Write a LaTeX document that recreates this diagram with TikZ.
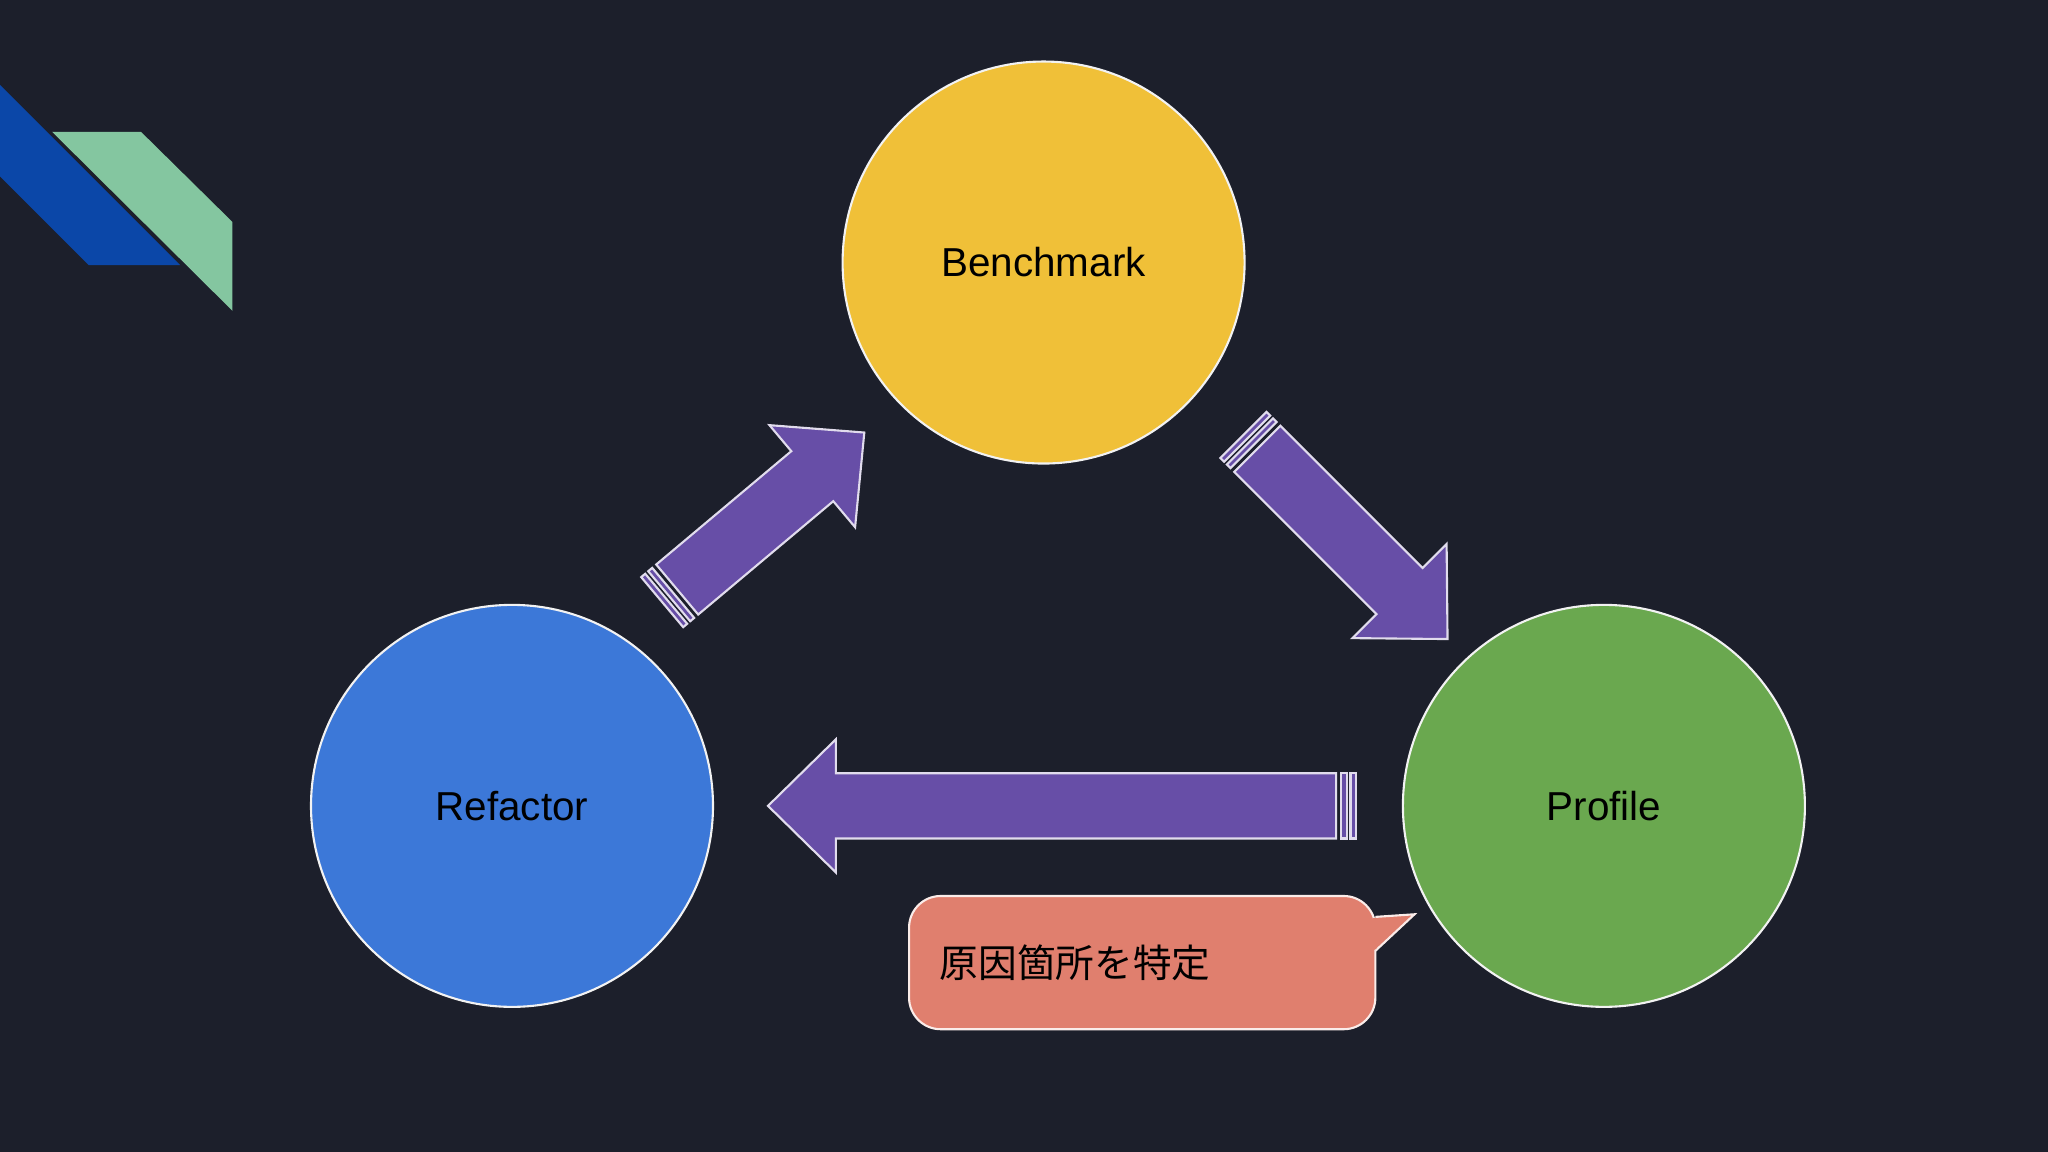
\documentclass[tikz,border=0pt]{standalone}
\usepackage{fontspec}
\setmainfont{Liberation Sans}
\newfontfamily\cjk{Noto Sans CJK JP}
\usetikzlibrary{positioning}
\definecolor{bgdark}{HTML}{1C1F2B}
\definecolor{benchyellow}{HTML}{F0C038}
\definecolor{refblue}{HTML}{3C78D8}
\definecolor{profgreen}{HTML}{6AA84F}
\definecolor{arrowpurple}{HTML}{674EA7}
\definecolor{notesalmon}{HTML}{E07F6E}
\definecolor{decoblue}{HTML}{0B47A8}
\definecolor{decogreen}{HTML}{84C6A0}
\tikzset{
  stage/.style={circle, draw=white!90!gray, line width=0.6pt, minimum size=4.02cm, inner sep=0pt, font=\fontsize{11.5}{14}\selectfont, text=black},
  fat/.style={fill=arrowpurple, draw=white!80!arrowpurple, line width=0.6pt},
}
\newcommand{\fatarrow}[4]{%
  \begin{scope}[shift={(#1,#2)}, rotate=#3]
    \draw[fat] (0,-25) rectangle (4,25);
    \draw[fat] (7,-25) rectangle (11,25);
    \draw[fat] (15,-25) -- (#4-52,-25) -- (#4-52,-51) -- (#4,0) -- (#4-52,51) -- (#4-52,25) -- (15,25) -- cycle;
  \end{scope}}
\begin{document}
\begin{tikzpicture}[x=0.01306cm, y=-0.01306cm]
\fill[bgdark] (0,0) rectangle (1568,882);
\useasboundingbox (0,0) rectangle (1568,882);

% corner decoration
\fill[decoblue] (0,65) -- (138,203) -- (68,203) -- (0,135) -- cycle;
\fill[decogreen] (40,101) -- (108,101) -- (178,170) -- (178,238) -- cycle;

% cycle steps
\node (benchmark) [stage, fill=benchyellow] at (799,201) {Benchmark};
\node (refactor) [stage, fill=refblue] at (392,617) {Refactor};
\node (profile) [stage, fill=profgreen] at (1228,617) {Profile};

\fatarrow{952}{333}{-45}{221}
\fatarrow{1038}{617}{180}{450}
\fatarrow{507}{461}{40}{202}

% callout
\draw[fill=notesalmon, draw=white!85!notesalmon, line width=0.6pt, rounded corners=9]
  (696,686) rectangle (1053,788);
\draw[fill=notesalmon, draw=white!85!notesalmon, line width=0.6pt]
  (1053,728) -- (1083,700) -- (1053,702);
\fill[notesalmon] (1051,703) -- (1054,703) -- (1054,726) -- (1051,728) -- cycle;
\node (cause) [anchor=west, font=\cjk\fontsize{11}{13}\selectfont, text=black] at (710,737) {原因箇所を特定};
\end{tikzpicture}
\end{document}
